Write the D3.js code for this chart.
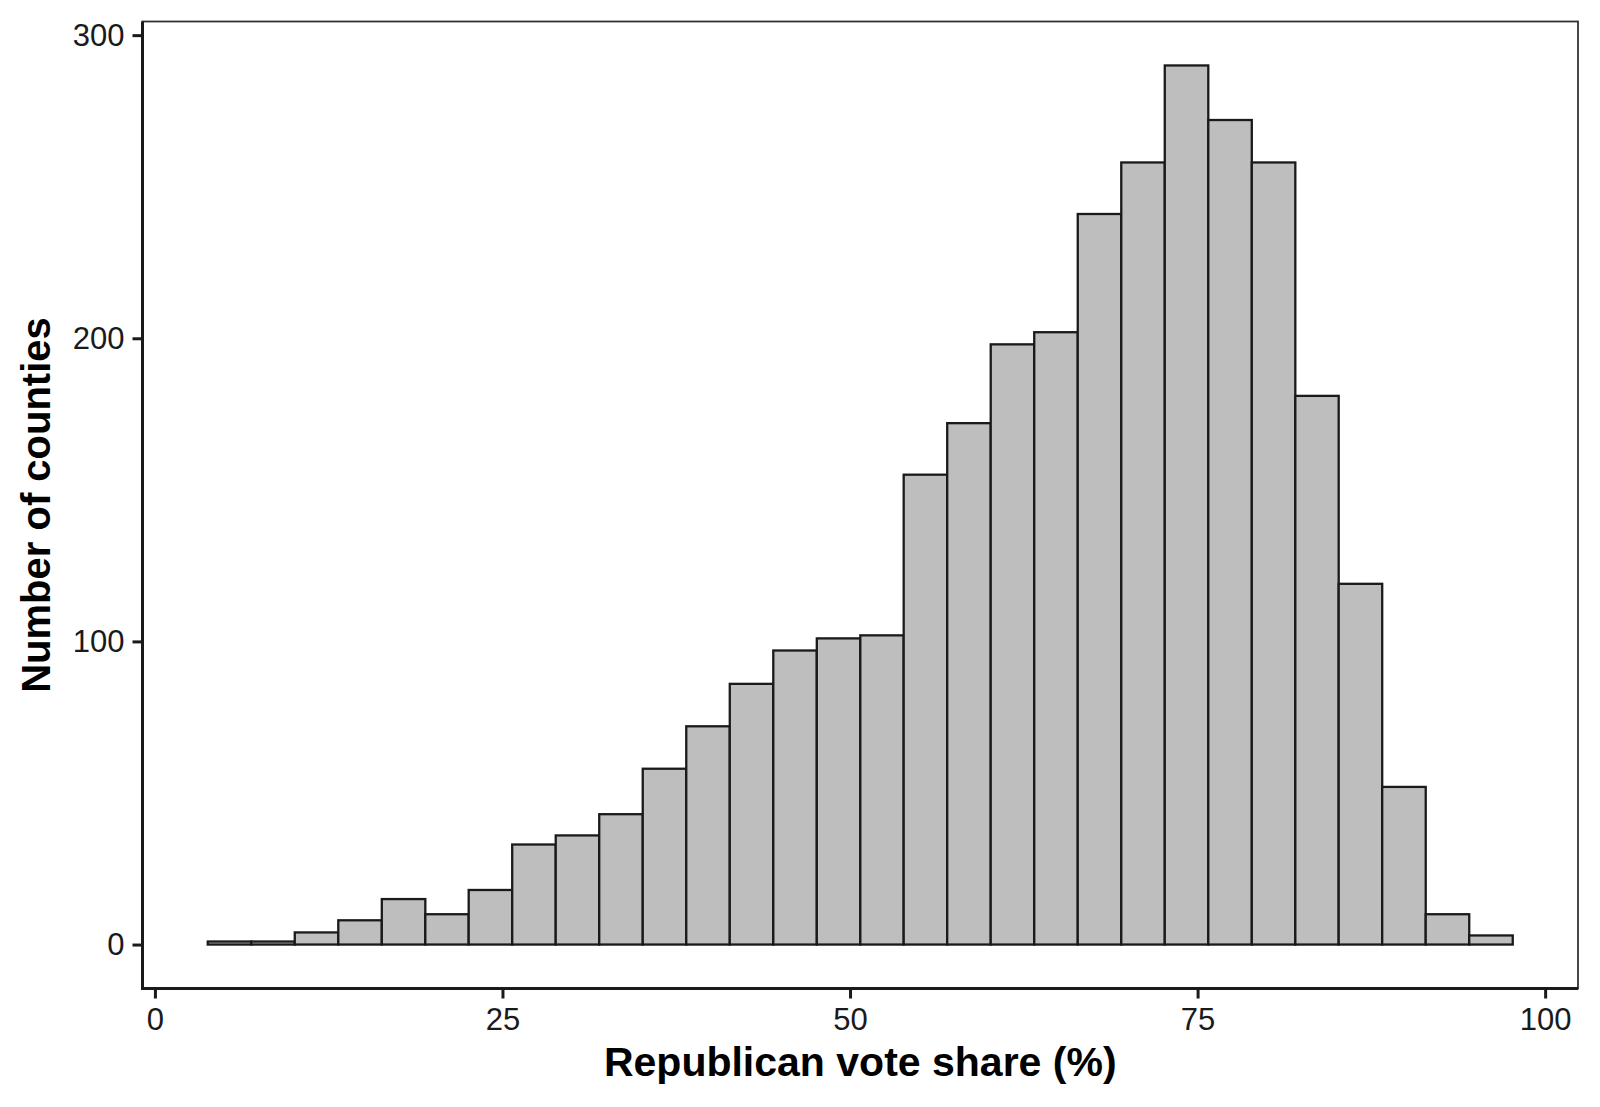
<!DOCTYPE html>
<html lang="en">
<head>
    <meta charset="UTF-8">
    <title>Republican vote share histogram</title>
    <script src="https://cdn.jsdelivr.net/npm/d3@7/dist/d3.min.js"></script>
    <style>
        body { margin: 0; background: #ffffff; }
        svg { display: block; font-family: "Liberation Sans", Arial, Helvetica, sans-serif; }
        .tick text { fill: #1a1a1a; font-size: 31px; }
        .tick line { stroke: #1a1a1a; stroke-width: 3; }
        .axis-title { font-size: 40px; font-weight: bold; fill: #000; }
    </style>
</head>
<body>
<svg id="chart" width="1600" height="1107"></svg>
<script>
    // bin edges (% Republican vote share)
    const binEdges = [3.8, 6.93, 10.06, 13.19, 16.32, 19.45, 22.57, 25.7, 28.83, 31.96,
                      35.09, 38.22, 41.35, 44.48, 47.61, 50.74, 53.86, 56.99, 60.12, 63.25,
                      66.38, 69.51, 72.64, 75.77, 78.9, 82.03, 85.15, 88.28, 91.41, 94.54, 97.67];
    // number of counties in each bin
    const counts = [1, 1, 4, 8, 15, 10, 18, 33, 36, 43,
                    58, 72, 86, 97, 101, 102, 155, 172, 198, 202,
                    241, 258, 290, 272, 258, 181, 119, 52, 10, 3];
    const xTicks = [0, 25, 50, 75, 100];
    const yTicks = [0, 100, 200, 300];

    const bins = counts.map((n, i) => ({ x0: binEdges[i], x1: binEdges[i + 1], n: n }));

    const panel = { left: 142.5, right: 1578, top: 21.5, bottom: 988.5 };
    const svg = d3.select("#chart");

    // ggplot-like 5% expansion
    const xr = [binEdges[0], binEdges[binEdges.length - 1]];
    const xPad = (xr[1] - xr[0]) * 0.05;
    const x = d3.scaleLinear()
        .domain([xr[0] - xPad, xr[1] + xPad])
        .range([panel.left, panel.right]);

    const yMax = d3.max(counts);
    const yPad = yMax * 0.05;
    const y = d3.scaleLinear()
        .domain([-yPad, yMax + yPad])
        .range([panel.bottom, panel.top]);

    // bars
    svg.append("g")
        .selectAll("rect")
        .data(bins)
        .join("rect")
        .attr("x", d => x(d.x0))
        .attr("width", d => x(d.x1) - x(d.x0))
        .attr("y", d => y(d.n))
        .attr("height", d => y(0) - y(d.n))
        .attr("fill", "#bebebe")
        .attr("stroke", "#1a1a1a")
        .attr("stroke-width", 2.3);

    // panel border (thin) + axis lines (thick)
    svg.append("rect")
        .attr("x", panel.left).attr("y", panel.top)
        .attr("width", panel.right - panel.left)
        .attr("height", panel.bottom - panel.top)
        .attr("fill", "none")
        .attr("stroke", "#333")
        .attr("stroke-width", 1.8);

    svg.append("line")
        .attr("x1", panel.left).attr("x2", panel.left)
        .attr("y1", panel.top).attr("y2", panel.bottom + 1.5)
        .attr("stroke", "#1a1a1a").attr("stroke-width", 3);
    svg.append("line")
        .attr("x1", panel.left - 1.5).attr("x2", panel.right)
        .attr("y1", panel.bottom).attr("y2", panel.bottom)
        .attr("stroke", "#1a1a1a").attr("stroke-width", 3);

    // axes
    const xAxis = svg.append("g")
        .attr("transform", `translate(0,${panel.bottom})`)
        .call(d3.axisBottom(x).tickValues(xTicks).tickSize(10).tickPadding(9));
    xAxis.select(".domain").remove();
    xAxis.selectAll(".tick text").attr("font-size", null).attr("font-family", null);

    const yAxis = svg.append("g")
        .attr("transform", `translate(${panel.left},0)`)
        .call(d3.axisLeft(y).tickValues(yTicks).tickSize(10).tickPadding(8));
    yAxis.select(".domain").remove();
    yAxis.selectAll(".tick text").attr("font-size", null).attr("font-family", null);

    // titles
    svg.append("text")
        .attr("class", "axis-title")
        .attr("x", (panel.left + panel.right) / 2)
        .attr("y", 1076)
        .attr("text-anchor", "middle")
        .style("font-size", "41px")
        .text("Republican vote share (%)");

    svg.append("text")
        .attr("class", "axis-title")
        .attr("transform", `translate(50,${(panel.top + panel.bottom) / 2}) rotate(-90)`)
        .attr("text-anchor", "middle")
        .text("Number of counties");
</script>
</body>
</html>
